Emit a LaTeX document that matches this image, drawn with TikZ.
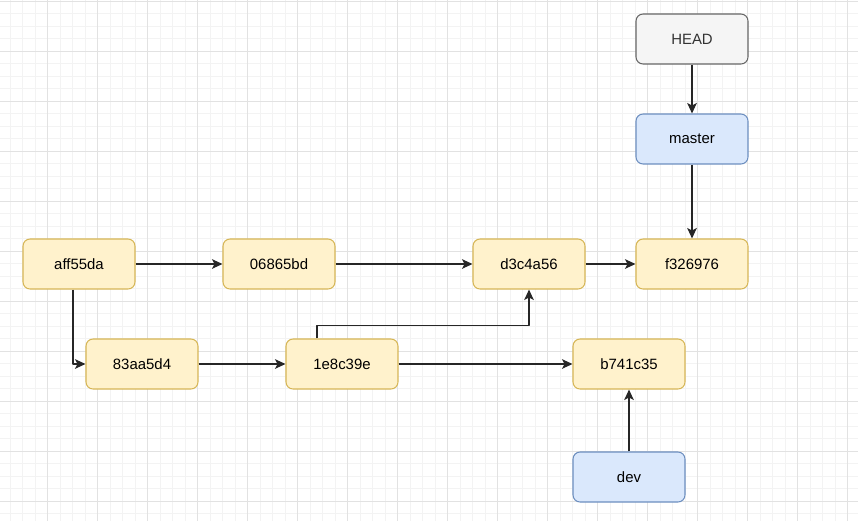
\documentclass[tikz,border=0pt]{standalone}
\usepackage{fontspec}
\setmainfont{Liberation Sans}
\usetikzlibrary{arrows.meta}
\definecolor{commitfill}{HTML}{FFF2CC}
\definecolor{commitline}{HTML}{D6B656}
\definecolor{branchfill}{HTML}{DAE8FC}
\definecolor{branchline}{HTML}{6C8EBF}
\definecolor{headfill}{HTML}{F5F5F5}
\definecolor{headline}{HTML}{666666}
\definecolor{headtext}{HTML}{333333}
\definecolor{gridminor}{HTML}{F3F3F3}
\definecolor{gridmajor}{HTML}{E2E2E2}
\tikzset{
  every picture/.style={line join=round, >={Stealth[length=6pt,width=5.5pt,inset=1.5pt]}},
  box/.style={rounded corners=4pt, line width=0.6pt, minimum width=2.24cm, minimum height=1cm, inner sep=0pt, font=\fontsize{8.5}{10}\selectfont},
  commit/.style={box, fill=commitfill, draw=commitline},
  branch/.style={box, fill=branchfill, draw=branchline},
  headref/.style={box, fill=headfill, draw=headline, text=headtext},
  link/.style={->, line width=0.7pt, draw=black!85},
  minorgrid/.style={draw=gridminor, line width=0.55pt},
  majorgrid/.style={draw=gridmajor, line width=0.55pt},
}

\begin{document}
\begin{tikzpicture}[x=0.02cm,y=-0.02cm]
\useasboundingbox (0,0) rectangle (858,521);
% background grid
\foreach \i in {0,...,69} \draw[minorgrid] (\i*12.5-2.5,0) -- (\i*12.5-2.5,521);
\foreach \j in {0,...,42} \draw[minorgrid] (0,\j*12.5+1) -- (858,\j*12.5+1);
\foreach \i in {0,...,17} \draw[majorgrid] (\i*50-2.5,0) -- (\i*50-2.5,521);
\foreach \j in {0,...,10} \draw[majorgrid] (0,\j*50+1) -- (858,\j*50+1);
% refs
\node[headref] (head) at (692,39) {HEAD};
\node[branch] (master) at (692,139) {master};
\node[branch] (dev) at (629,477) {dev};
% commits
\node[commit] (caff55da) at (79,264) {aff55da};
\node[commit] (c06865bd) at (279,264) {06865bd};
\node[commit] (cd3c4a56) at (529,264) {d3c4a56};
\node[commit] (cf326976) at (692,264) {f326976};
\node[commit] (c83aa5d4) at (142,364) {83aa5d4};
\node[commit] (c1e8c39e) at (342,364) {1e8c39e};
\node[commit] (cb741c35) at (629,364) {b741c35};
% connectors
\draw[link] (head) -- (master);
\draw[link] (master) -- (cf326976);
\draw[link] (caff55da) -- (c06865bd);
\draw[link] (c06865bd) -- (cd3c4a56);
\draw[link] (cd3c4a56) -- (cf326976);
\draw[link] ([xshift=-0.12cm]caff55da.south) |- (c83aa5d4.west);
\draw[link] (c83aa5d4) -- (c1e8c39e);
\draw[link] (c1e8c39e) -- (cb741c35);
\draw[link] ([xshift=-0.5cm]c1e8c39e.north) -- ++(0,-13) -| (cd3c4a56.south);
\draw[link] (dev) -- (cb741c35);
\end{tikzpicture}
\end{document}
